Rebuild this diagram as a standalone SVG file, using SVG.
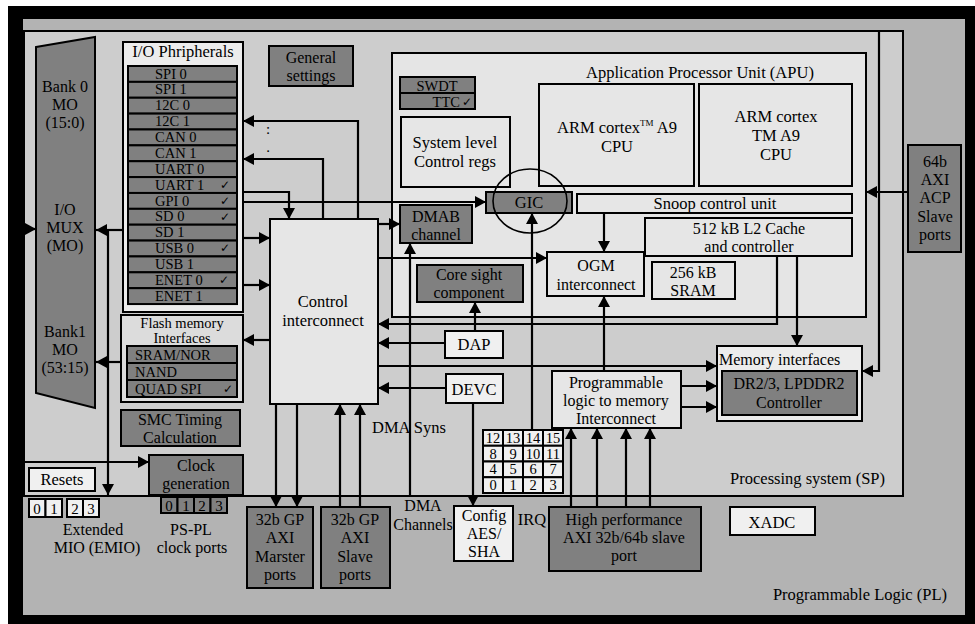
<svg xmlns="http://www.w3.org/2000/svg" width="975" height="624" viewBox="0 0 975 624">
<defs>
<marker id="ah" markerUnits="userSpaceOnUse" markerWidth="12" markerHeight="12" refX="11" refY="6" orient="auto">
<path d="M0,0 L11,6 L0,12 z" fill="#000"/>
</marker>
<style>
.t{font-family:"Liberation Serif","Times New Roman",serif;font-size:16.5px;fill:#000}
.c{text-anchor:middle}
.e{text-anchor:end}
.sm{font-size:15px}
.m{font-size:16px}
.r{font-size:14.5px}
.ck{font-family:"DejaVu Sans",sans-serif;font-size:12px;fill:#000}
.dk{fill:#808080;stroke:#000;stroke-width:2}
.lt{fill:#e6e6e6;stroke:#000;stroke-width:2}
.wt{fill:#f0f0f0;stroke:#000;stroke-width:2}
.ln{fill:none;stroke:#000;stroke-width:2.2;marker-end:url(#ah)}
</style>
</defs>
<rect x="0" y="0" width="975" height="624" fill="#fff"/>
<g id="frame">
<rect x="8" y="6" width="967" height="618" fill="#000"/>
<rect x="23" y="19" width="942" height="596" fill="#b3b3b3"/>
</g>
<g id="ps">
<rect x="24" y="31" width="879" height="465" fill="#cdcdcd" stroke="#000" stroke-width="2"/>
<text class="t e" x="885" y="484">Processing system (SP)</text>
</g>
<text class="t e" x="947" y="600">Programmable Logic (PL)</text>
<g id="apu">
<rect x="392" y="53" width="474" height="264" fill="#e5e5e5" stroke="#000" stroke-width="2"/>
<text class="t c" x="700" y="78">Application Processor Unit (APU)</text>
</g>
<g id="iomux">
<polygon points="36,47 95,37 95,408 36,393" class="dk"/>
<text class="t c m" x="65" y="92">Bank 0</text>
<text class="t c m" x="65" y="110">MO</text>
<text class="t c m" x="65" y="128">(15:0)</text>
<text class="t c m" x="65" y="215">I/O</text>
<text class="t c m" x="65" y="233">MUX</text>
<text class="t c m" x="65" y="251">(MO)</text>
<text class="t c m" x="65" y="337">Bank1</text>
<text class="t c m" x="65" y="355">MO</text>
<text class="t c m" x="65" y="373">(53:15)</text>
</g>
<g id="io-peripherals">
<rect x="123" y="42" width="120" height="270" fill="#ececec" stroke="#000" stroke-width="2"/>
<text class="t c" x="183" y="57">I/O Phripherals</text>
<rect x="128" y="66" width="109" height="15.87" class="dk"/>
<rect x="128" y="81.87" width="109" height="15.87" class="dk"/>
<rect x="128" y="97.74" width="109" height="15.87" class="dk"/>
<rect x="128" y="113.61" width="109" height="15.87" class="dk"/>
<rect x="128" y="129.48" width="109" height="15.87" class="dk"/>
<rect x="128" y="145.35" width="109" height="15.87" class="dk"/>
<rect x="128" y="161.22" width="109" height="15.87" class="dk"/>
<rect x="128" y="177.09" width="109" height="15.87" class="dk"/>
<rect x="128" y="192.96" width="109" height="15.87" class="dk"/>
<rect x="128" y="208.83" width="109" height="15.87" class="dk"/>
<rect x="128" y="224.7" width="109" height="15.87" class="dk"/>
<rect x="128" y="240.57" width="109" height="15.87" class="dk"/>
<rect x="128" y="256.44" width="109" height="15.87" class="dk"/>
<rect x="128" y="272.31" width="109" height="15.87" class="dk"/>
<rect x="128" y="288.18" width="109" height="15.87" class="dk"/>
<text class="t r" x="155" y="78.5">SPI 0</text>
<text class="t r" x="155" y="94.4">SPI 1</text>
<text class="t r" x="155" y="110.2">12C 0</text>
<text class="t r" x="155" y="126.1">12C 1</text>
<text class="t r" x="155" y="142">CAN 0</text>
<text class="t r" x="155" y="157.8">CAN 1</text>
<text class="t r" x="155" y="173.7">UART 0</text>
<text class="t r" x="155" y="189.6">UART 1</text>
<text class="t r" x="155" y="205.5">GPI 0</text>
<text class="t r" x="155" y="221.3">SD 0</text>
<text class="t r" x="155" y="237.2">SD 1</text>
<text class="t r" x="155" y="253.1">USB 0</text>
<text class="t r" x="155" y="268.9">USB 1</text>
<text class="t r" x="155" y="284.8">ENET 0</text>
<text class="t r" x="155" y="300.7">ENET 1</text>
<text class="ck" x="220" y="189">✓</text>
<text class="ck" x="220" y="205">✓</text>
<text class="ck" x="220" y="221">✓</text>
<text class="ck" x="220" y="252">✓</text>
<text class="ck" x="219" y="284">✓</text>
</g>
<g id="flash">
<rect x="121" y="315" width="122" height="87" fill="#dcdcdc" stroke="#000" stroke-width="2"/>
<text class="t c r" x="182" y="328">Flash memory</text>
<text class="t c r" x="182" y="343">Interfaces</text>
<rect x="127" y="346" width="110" height="17" class="dk"/>
<rect x="127" y="363" width="110" height="17" class="dk"/>
<rect x="127" y="380" width="110" height="17" class="dk"/>
<text class="t r" x="135" y="359.5">SRAM/NOR</text>
<text class="t r" x="135" y="376.5">NAND</text>
<text class="t r" x="135" y="393.5">QUAD SPI</text>
<text class="ck" x="223" y="393">✓</text>
</g>
<g id="smc">
<rect x="121" y="410" width="119" height="36" class="dk"/>
<text class="t c m" x="180" y="425">SMC Timing</text>
<text class="t c m" x="180" y="443">Calculation</text>
</g>
<g id="clock">
<rect x="149" y="455" width="94" height="40" class="dk"/>
<text class="t c m" x="196" y="471">Clock</text>
<text class="t c m" x="196" y="489">generation</text>
<rect x="161" y="497" width="16.5" height="16" class="dk"/>
<rect x="177.5" y="497" width="16.5" height="16" class="dk"/>
<rect x="194" y="497" width="16.5" height="16" class="dk"/>
<rect x="210.5" y="497" width="16.5" height="16" class="dk"/>
<text class="t c sm" x="169" y="511">0</text>
<text class="t c sm" x="186" y="511">1</text>
<text class="t c sm" x="202" y="511">2</text>
<text class="t c sm" x="219" y="511">3</text>
<text class="t c m" x="191" y="535">PS-PL</text>
<text class="t c m" x="192" y="553">clock ports</text>
</g>
<g id="resets">
<rect x="29" y="468" width="66" height="23" class="wt"/>
<text class="t c" x="62" y="485">Resets</text>
</g>
<g id="emio">
<rect x="29" y="499" width="16.5" height="18" class="wt"/>
<rect x="45.5" y="499" width="16.5" height="18" class="wt"/>
<rect x="67" y="499" width="16" height="18" class="wt"/>
<rect x="83" y="499" width="16" height="18" class="wt"/>
<text class="t c sm" x="37" y="514">0</text>
<text class="t c sm" x="54" y="514">1</text>
<text class="t c sm" x="75" y="514">2</text>
<text class="t c sm" x="91" y="514">3</text>
<text class="t c m" x="93" y="535">Extended</text>
<text class="t c m" x="97" y="553">MIO (EMIO)</text>
</g>
<g id="general-settings">
<rect x="269" y="46" width="84" height="40" class="dk"/>
<text class="t c m" x="311" y="63">General</text>
<text class="t c m" x="311" y="81">settings</text>
</g>
<g id="control-interconnect">
<rect x="270" y="219" width="108" height="185" class="lt"/>
<text class="t c" x="323" y="307">Control</text>
<text class="t c" x="323" y="326">interconnect</text>
</g>
<g id="gp-master">
<rect x="247" y="507" width="66" height="81" class="dk"/>
<text class="t c m" x="280" y="525">32b GP</text>
<text class="t c m" x="280" y="543">AXI</text>
<text class="t c m" x="280" y="562">Marster</text>
<text class="t c m" x="280" y="580">ports</text>
</g>
<g id="gp-slave">
<rect x="321" y="507" width="69" height="81" class="dk"/>
<text class="t c m" x="355" y="525">32b GP</text>
<text class="t c m" x="355" y="543">AXI</text>
<text class="t c m" x="355" y="562">Slave</text>
<text class="t c m" x="355" y="580">ports</text>
</g>
<g id="swdt-ttc">
<rect x="400" y="77" width="75" height="16" class="dk"/>
<rect x="400" y="93" width="75" height="16" class="dk"/>
<text class="t c r" x="437" y="90.5">SWDT</text>
<text class="t e r" x="460" y="106.5">TTC</text>
<text class="ck" x="462" y="106">✓</text>
</g>
<g id="system-level">
<rect x="401" y="117" width="109" height="70" class="lt"/>
<text class="t c" x="455" y="148">System level</text>
<text class="t c" x="455" y="167">Control regs</text>
</g>
<g id="cpu0">
<rect x="539" y="84" width="155" height="102" class="lt"/>
<text class="t c" x="617" y="133">ARM cortex<tspan font-size="9" dy="-7">TM</tspan><tspan dy="7"> A9</tspan></text>
<text class="t c" x="617" y="152">CPU</text>
</g>
<g id="cpu1">
<rect x="699" y="84" width="153" height="102" class="lt"/>
<text class="t c" x="776" y="122">ARM cortex</text>
<text class="t c" x="776" y="141">TM A9</text>
<text class="t c" x="776" y="160">CPU</text>
</g>
<g id="snoop">
<rect x="577" y="194" width="275" height="19" class="lt"/>
<text class="t c" x="715" y="209">Snoop control unit</text>
</g>
<g id="l2">
<rect x="645" y="218" width="207" height="38" class="lt"/>
<text class="t c m" x="749" y="234">512 kB L2 Cache</text>
<text class="t c m" x="749" y="252">and controller</text>
</g>
<g id="ogm">
<rect x="547" y="252" width="97" height="44" class="lt"/>
<text class="t c m" x="596" y="271">OGM</text>
<text class="t c m" x="596" y="290">interconnect</text>
</g>
<g id="sram">
<rect x="652" y="262" width="83" height="37" class="lt"/>
<text class="t c m" x="693" y="278">256 kB</text>
<text class="t c m" x="693" y="296">SRAM</text>
</g>
<g id="dmab">
<rect x="400" y="205" width="72" height="38" class="dk"/>
<text class="t c m" x="436" y="222">DMAB</text>
<text class="t c m" x="436" y="240">channel</text>
</g>
<g id="coresight">
<rect x="417" y="265" width="106" height="37" class="dk"/>
<text class="t c m" x="469" y="280">Core sight</text>
<text class="t c m" x="469" y="298">component</text>
</g>
<g id="dap">
<rect x="445" y="331" width="58" height="27" class="wt"/>
<text class="t c" x="474" y="350">DAP</text>
</g>
<g id="devc">
<rect x="446" y="374" width="57" height="29" class="wt"/>
<text class="t c" x="474" y="395">DEVC</text>
</g>
<g id="config">
<rect x="454" y="506" width="59" height="55" class="wt"/>
<text class="t c m" x="484" y="521">Config</text>
<text class="t c m" x="484" y="539">AES/</text>
<text class="t c m" x="484" y="557">SHA</text>
</g>
<g id="irq">
<rect x="483" y="430" width="20" height="15.75" class="wt"/>
<rect x="503" y="430" width="20" height="15.75" class="wt"/>
<rect x="523" y="430" width="20" height="15.75" class="wt"/>
<rect x="543" y="430" width="20" height="15.75" class="wt"/>
<rect x="483" y="445.75" width="20" height="15.75" class="wt"/>
<rect x="503" y="445.75" width="20" height="15.75" class="wt"/>
<rect x="523" y="445.75" width="20" height="15.75" class="wt"/>
<rect x="543" y="445.75" width="20" height="15.75" class="wt"/>
<rect x="483" y="461.5" width="20" height="15.75" class="wt"/>
<rect x="503" y="461.5" width="20" height="15.75" class="wt"/>
<rect x="523" y="461.5" width="20" height="15.75" class="wt"/>
<rect x="543" y="461.5" width="20" height="15.75" class="wt"/>
<rect x="483" y="477.25" width="20" height="15.75" class="wt"/>
<rect x="503" y="477.25" width="20" height="15.75" class="wt"/>
<rect x="523" y="477.25" width="20" height="15.75" class="wt"/>
<rect x="543" y="477.25" width="20" height="15.75" class="wt"/>
<text class="t c r" x="493" y="443">12</text>
<text class="t c r" x="513" y="443">13</text>
<text class="t c r" x="533" y="443">14</text>
<text class="t c r" x="553" y="443">15</text>
<text class="t c r" x="493" y="458.5">8</text>
<text class="t c r" x="513" y="458.5">9</text>
<text class="t c r" x="533" y="458.5">10</text>
<text class="t c r" x="553" y="458.5">11</text>
<text class="t c r" x="493" y="474">4</text>
<text class="t c r" x="513" y="474">5</text>
<text class="t c r" x="533" y="474">6</text>
<text class="t c r" x="553" y="474">7</text>
<text class="t c r" x="493" y="490">0</text>
<text class="t c r" x="513" y="490">1</text>
<text class="t c r" x="533" y="490">2</text>
<text class="t c r" x="553" y="490">3</text>
<text class="t c" x="532" y="525">IRQ</text>
</g>
<g id="pl-mem">
<rect x="552" y="371" width="129" height="57" class="lt"/>
<text class="t c m" x="616" y="388">Programmable</text>
<text class="t c m" x="616" y="406">logic to memory</text>
<text class="t c m" x="616" y="424">Interconnect</text>
</g>
<g id="memory-interfaces">
<rect x="717" y="346" width="145" height="75" fill="#ececec" stroke="#000" stroke-width="2"/>
<text class="t m" x="719" y="365">Memory interfaces</text>
<rect x="722" y="371" width="135" height="44" class="dk"/>
<text class="t c m" x="789" y="389">DR2/3, LPDDR2</text>
<text class="t c m" x="789" y="408">Controller</text>
</g>
<g id="hp-axi">
<rect x="549" y="507" width="152" height="64" class="dk"/>
<text class="t c m" x="624" y="525">High performance</text>
<text class="t c m" x="624" y="543">AXI 32b/64b slave</text>
<text class="t c m" x="624" y="561">port</text>
</g>
<g id="xadc">
<rect x="730" y="507" width="85" height="28" class="wt"/>
<text class="t c" x="772" y="528" font-size="19">XADC</text>
</g>
<g id="acp">
<rect x="908" y="145" width="53" height="107" class="dk"/>
<text class="t c m" x="935" y="167">64b</text>
<text class="t c m" x="935" y="185">AXI</text>
<text class="t c m" x="935" y="203">ACP</text>
<text class="t c m" x="935" y="222">Slave</text>
<text class="t c m" x="935" y="240">ports</text>
</g>
<g id="labels">
<text class="t" x="372" y="433">DMA Syns</text>
<text class="t c m" x="423" y="511">DMA</text>
<text class="t c m" x="423" y="530">Channels</text>
<text class="t c sm" x="268" y="134">:</text>
<text class="t c sm" x="268" y="152">.</text>
</g>
<g id="connectors">
<path class="ln" d="M123,230 H96"/>
<path class="ln" d="M108,230 V495"/>
<path class="ln" d="M23,229 H36"/>
<path class="ln" d="M121,362 H96"/>
<path class="ln" d="M24,462 H149"/>
<path class="ln" d="M270,340 H243"/>
<path class="ln" d="M243,238 H270"/>
<path class="ln" d="M243,285 H270"/>
<path class="ln" d="M243,192 H289 V219"/>
<path class="ln" d="M323,219 V159 H243"/>
<path class="ln" d="M358,219 V121 H243"/>
<path class="ln" d="M243,202 H486"/>
<path class="ln" d="M378,224 H400"/>
<path class="ln" d="M378,258 H547"/>
<path class="ln" d="M777,256 V324 H378"/>
<path class="ln" d="M445,343 H378"/>
<path class="ln" d="M475,331 V302"/>
<path class="ln" d="M378,366 H717"/>
<path class="ln" d="M446,388 H378"/>
<path class="ln" d="M473,403 V506"/>
<path class="ln" d="M410,495 V243"/>
<path class="ln" d="M532,430 V213"/>
<path class="ln" d="M604,213 V252"/>
<path class="ln" d="M604,371 V296"/>
<path class="ln" d="M797,256 V346"/>
<path class="ln" d="M681,386 H717"/>
<path class="ln" d="M681,407 H717"/>
<path class="ln" d="M571,507 V428"/>
<path class="ln" d="M597,507 V428"/>
<path class="ln" d="M626,507 V428"/>
<path class="ln" d="M650,507 V428"/>
<path class="ln" d="M908,192 H866"/>
<path class="ln" d="M879,31 V371 H862"/>
<path class="ln" d="M276,404 V507"/>
<path class="ln" d="M297,404 V507"/>
<path class="ln" d="M340,507 V404"/>
<path class="ln" d="M360,507 V404"/>
</g>
<g id="gic">
<rect x="486" y="192" width="86" height="21" class="dk"/>
<text class="t c" x="529" y="208">GIC</text>
<ellipse cx="530" cy="201" rx="37" ry="32" fill="none" stroke="#000" stroke-width="1.6"/>
</g>
</svg>
